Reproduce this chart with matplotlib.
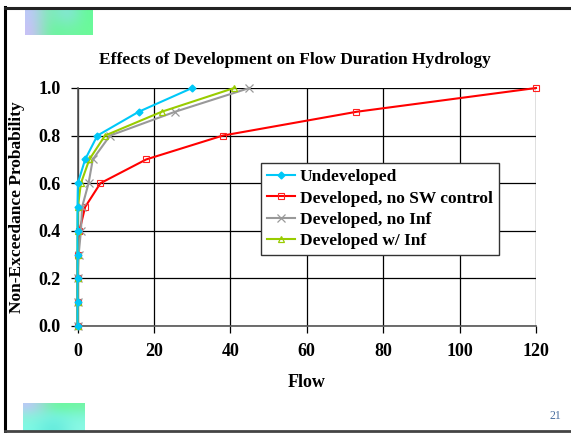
import numpy as np
import matplotlib.pyplot as plt
from matplotlib.lines import Line2D

# Non-exceedance probability levels shared by all series
prob = [0.0, 0.1, 0.2, 0.3, 0.4, 0.5, 0.6, 0.7, 0.8, 0.9, 1.0]

# Flow values
flow_undeveloped = [0, 0, 0, 0, 0, 0, 0.1, 2, 5.2, 16, 30]
flow_dev_no_sw = [0, 0, 0, 0, 0.5, 2, 6, 18, 38, 73, 120]
flow_dev_no_inf = [0, 0, 0, 0.3, 0.9, 1.2, 2.9, 4, 8.5, 25.5, 45]
flow_dev_inf = [0, 0, 0, 0, 0, 0.1, 0.9, 3.1, 7.2, 22, 41]

series_names = ["Undeveloped", "Developed, no SW control",
                "Developed, no Inf", "Developed w/ Inf"]

plt.rcParams['font.family'] = ['Liberation Serif', 'DejaVu Serif']
plt.rcParams['font.weight'] = 'bold'

fig = plt.figure(figsize=(5.71, 4.33), dpi=100)

# slide frame
fig.add_artist(Line2D([0.009, 0.009], [0.0, 0.983], transform=fig.transFigure,
                      color='black', lw=2.2))
fig.add_artist(Line2D([0.009, 1.0], [0.981, 0.981], transform=fig.transFigure,
                      color='#222222', lw=2.2))
fig.add_artist(Line2D([0.009, 1.0], [0.005, 0.005], transform=fig.transFigure,
                      color='#444444', lw=2.0))


# decorative gradient blocks
def grad_block(x0, y0, w, h, cols):
    ax_ = fig.add_axes([x0, y0, w, h])
    ax_.imshow(np.array(cols), aspect='auto', interpolation='bicubic')
    ax_.axis('off')


grad_block(25 / 571, 1 - 35 / 433, 68 / 571, 25 / 433,
           [[[0.75, 0.78, 0.98], [0.45, 0.95, 0.65], [0.55, 0.88, 0.9], [0.4, 0.98, 0.6]],
            [[0.8, 0.75, 0.98], [0.4, 0.97, 0.6], [0.45, 0.95, 0.65], [0.42, 0.98, 0.6]]])
grad_block(23 / 571, 0.005, 62 / 571, 28 / 433,
           [[[0.75, 0.78, 0.98], [0.4, 0.98, 0.6], [0.45, 0.96, 0.65]],
            [[0.55, 0.95, 0.85], [0.45, 0.95, 0.9], [0.5, 0.97, 0.85]],
            [[0.5, 0.98, 0.9], [0.35, 0.9, 0.85], [0.55, 0.98, 0.9]]])

fig.text(0.983, 0.032, "21", color='#4a6fa0', fontsize=8.5, ha='right',
         fontweight='normal')

ax = fig.add_axes([77.5 / 571, 1 - 326 / 433, 458.5 / 571, 238 / 433])

ax.plot(flow_undeveloped, prob, color='#00c8f8', lw=1.5, marker='D',
        ms=3.5, mfc='#00c8f8', mec='#00c8f8', label=series_names[0],
        zorder=5, clip_on=False)
ax.plot(flow_dev_no_sw, prob, color='#ff0000', lw=1.5, marker='s',
        ms=5, mfc='none', mec='#ff2020', mew=0.8, label=series_names[1],
        zorder=3, clip_on=False)
ax.plot(flow_dev_no_inf, prob, color='#999999', lw=1.5, marker='x',
        ms=6, mec='#999999', mew=0.9, label=series_names[2],
        zorder=3, clip_on=False)
ax.plot(flow_dev_inf, prob, color='#99cc00', lw=1.5, marker='^',
        ms=5, mfc='none', mec='#99cc00', mew=0.9, label=series_names[3],
        zorder=4, clip_on=False)

ax.set_xlim(0, 120)
ax.set_ylim(0, 1.0)
ax.set_xticks(np.arange(0, 121, 20))
ax.set_yticks(np.arange(0, 1.01, 0.2))
ax.set_yticklabels([f"{v:.1f}" for v in np.arange(0, 1.01, 0.2)])
ax.grid(True, color='black', lw=0.9)
ax.set_axisbelow(True)
for s in ['top', 'right']:
    ax.spines[s].set_visible(False)
for s in ['left', 'bottom']:
    ax.spines[s].set_color('#555555')
    ax.spines[s].set_linewidth(1.2)
ax.tick_params(axis='both', length=5, width=0.9, color='black',
               labelsize=13, pad=7)
for lab in ax.get_xticklabels() + ax.get_yticklabels():
    lab.set_fontweight('bold')

ax.set_xlabel("Flow", fontsize=13, fontweight='bold', labelpad=10)
ax.set_ylabel("Non-Exceedance Probability", fontsize=12.5, fontweight='bold',
              labelpad=10)
fig.text(295 / 571, 1 - 60 / 433, "Effects of Development on Flow Duration Hydrology",
         ha='center', va='center', fontsize=12.5, fontweight='bold')

leg = ax.legend(loc='upper left', bbox_to_anchor=(0.40, 0.685), fontsize=12.5,
                frameon=True, fancybox=False, edgecolor='#333333',
                framealpha=1, borderpad=0.35, labelspacing=0.3,
                handlelength=1.6, handletextpad=0.3, borderaxespad=0)
leg.get_frame().set_linewidth(1.0)
for t in leg.get_texts():
    t.set_fontweight('bold')

fig.savefig("out.png", dpi=100)
